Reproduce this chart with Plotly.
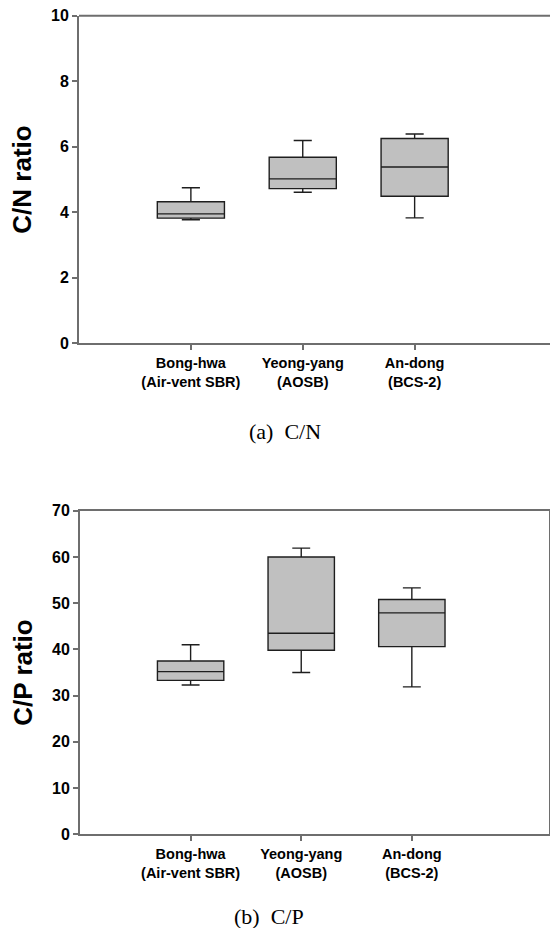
import plotly.graph_objects as go

# ---- data ----
sites = ["Bong-hwa", "Yeong-yang", "An-dong"]
systems = ["(Air-vent SBR)", "(AOSB)", "(BCS-2)"]
positions = [1, 2, 3]

cn_low = [3.77, 4.61, 3.83]
cn_q1 = [3.82, 4.72, 4.49]
cn_median = [3.95, 5.02, 5.38]
cn_q3 = [4.32, 5.68, 6.25]
cn_high = [4.75, 6.19, 6.39]

cp_low = [32.3, 35.0, 31.9]
cp_q1 = [33.3, 39.8, 40.6]
cp_median = [35.2, 43.5, 47.9]
cp_q3 = [37.5, 60.0, 50.8]
cp_high = [41.0, 61.9, 53.3]

cn_ticks = [0, 2, 4, 6, 8, 10]
cp_ticks = [0, 10, 20, 30, 40, 50, 60, 70]

W, H = 550, 928
labels = [f"{s}<br>{r}" for s, r in zip(sites, systems)]

fig = go.Figure()

box_style = dict(
    fillcolor="#c0c0c0",
    line=dict(color="#1e1e1e", width=1.4),
    width=0.6,
    whiskerwidth=0.27,
    boxpoints=False,
    showlegend=False,
    hoverinfo="skip",
)

fig.add_trace(go.Box(x=positions, q1=cn_q1, median=cn_median, q3=cn_q3,
                     lowerfence=cn_low, upperfence=cn_high,
                     xaxis="x", yaxis="y", **box_style))
fig.add_trace(go.Box(x=positions, q1=cp_q1, median=cp_median, q3=cp_q3,
                     lowerfence=cp_low, upperfence=cp_high,
                     xaxis="x2", yaxis="y2", **box_style))

axis_col = "#6e6e6e"
ytickfont = dict(family="Liberation Sans, Arial", size=16, color="black", weight="bold")
xtickfont = dict(family="Liberation Sans, Arial", size=14.5, color="black", weight="bold")
titlefont = dict(family="Liberation Sans, Arial", size=26, color="black", weight="bold")

common_x = dict(
    tickmode="array", tickvals=positions, ticktext=labels,
    ticks="outside", ticklen=5, tickwidth=1.5, tickcolor=axis_col,
    showline=True, linecolor=axis_col, linewidth=2,
    showgrid=False, zeroline=False, tickfont=xtickfont, automargin=False,
    fixedrange=True,
)
common_y = dict(
    ticks="outside", ticklen=5, tickwidth=1.5, tickcolor=axis_col,
    showline=True, linecolor=axis_col, linewidth=2,
    showgrid=False, zeroline=False, tickfont=ytickfont, automargin=False,
    title_font=titlefont, title_standoff=12, fixedrange=True,
)

fig.update_layout(
    width=W, height=H,
    margin=dict(l=0, r=0, t=0, b=0),
    paper_bgcolor="white", plot_bgcolor="white",
    xaxis=dict(common_x, domain=[79 / W, 1.0], range=[0, 4.21], anchor="y", mirror=False),
    yaxis=dict(common_y, domain=[1 - 343.3 / H, 1 - 15.7 / H], range=[0, 10],
               tickvals=cn_ticks, anchor="x", mirror=False,
               title_text="C/N ratio"),
    xaxis2=dict(common_x, domain=[80 / W, 549 / W], range=[0, 4.24], anchor="y2", mirror=True),
    yaxis2=dict(common_y, domain=[1 - 834.3 / H, 1 - 510.7 / H], range=[0, 70],
                tickvals=cp_ticks, anchor="x2", mirror=True,
                title_text="C/P ratio"),
    shapes=[
        # top frame line of the upper panel (its right side is cut off in the original)
        dict(type="line", xref="x domain", yref="y domain", x0=0, x1=1, y0=1, y1=1,
             line=dict(color=axis_col, width=2)),
    ],
    annotations=[
        dict(text="(a)  C/N", x=285 / W, y=1 - 431 / H, xref="paper", yref="paper",
             showarrow=False, xanchor="center", yanchor="middle",
             font=dict(family="Liberation Serif, Times New Roman", size=22, color="black")),
        dict(text="(b)  C/P", x=269 / W, y=1 - 916 / H, xref="paper", yref="paper",
             showarrow=False, xanchor="center", yanchor="middle",
             font=dict(family="Liberation Serif, Times New Roman", size=22, color="black")),
    ],
)

fig.write_html("out.html")
